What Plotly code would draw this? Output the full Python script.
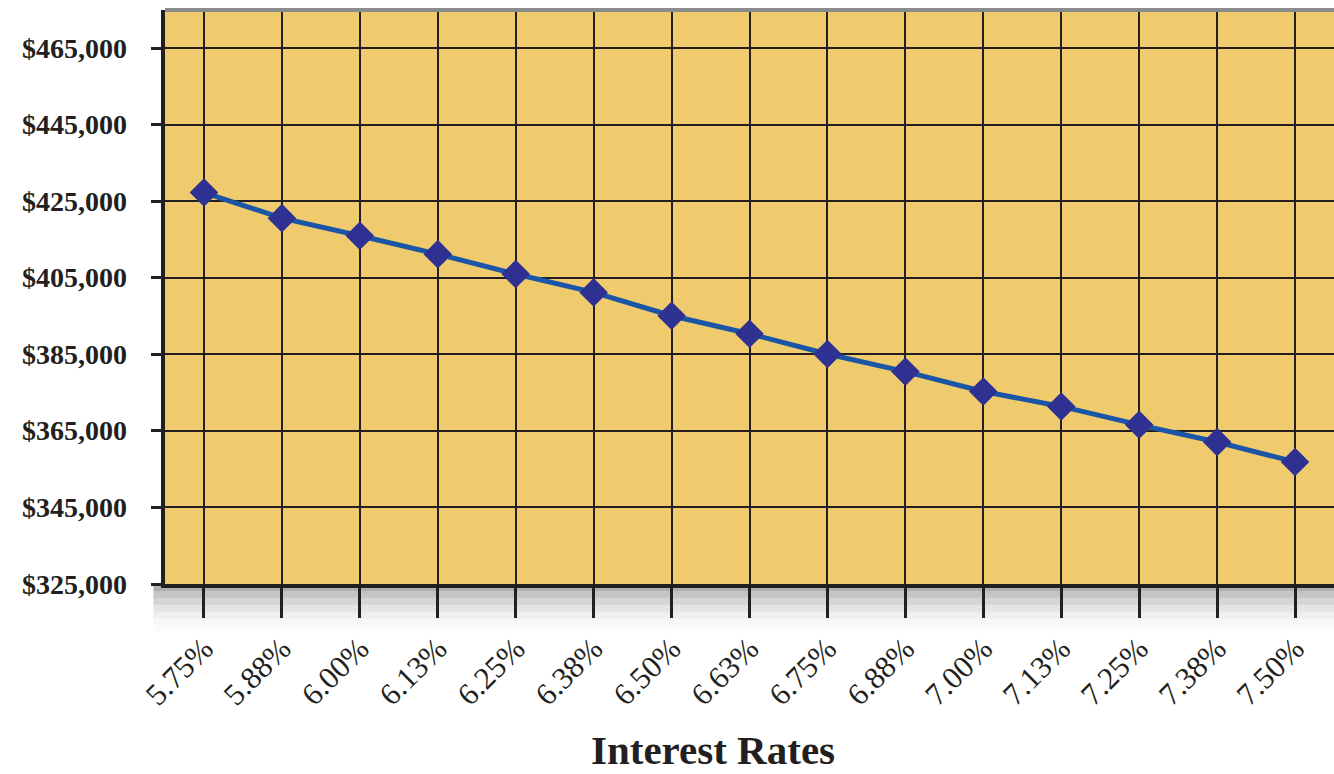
import plotly.graph_objects as go

rates = ["5.75%", "5.88%", "6.00%", "6.13%", "6.25%", "6.38%", "6.50%", "6.63%",
         "6.75%", "6.88%", "7.00%", "7.13%", "7.25%", "7.38%", "7.50%"]
home_price = [427300, 420600, 416000, 411200, 406000, 401200, 395100, 390400,
              385100, 380500, 375300, 371400, 366600, 362100, 356900]
y_ticks = [325000, 345000, 365000, 385000, 405000, 425000, 445000, 465000]
y_tick_labels = ["$%s" % format(v, ",") for v in y_ticks]
x_title = "Interest Rates"

INK = "#231F20"
FONT = "Liberation Serif"

fig = go.Figure()
fig.add_trace(go.Scatter(
    x=rates, y=home_price, mode="lines+markers",
    line=dict(color="#1B55A7", width=5),
    marker=dict(symbol="diamond", size=22, color="#2E3192",
                line=dict(width=0)),
    showlegend=False, hoverinfo="x+y",
))

# soft shadow under the x axis
for i, op in enumerate([0.10, 0.08, 0.06, 0.045, 0.03, 0.02, 0.01]):
    fig.add_shape(type="rect", xref="paper", yref="paper",
                  x0=-0.01, x1=1.0, y0=-0.012 * (i + 1), y1=0,
                  fillcolor="black", opacity=op, line=dict(width=0), layer="below")

# grey top edge
fig.add_shape(type="line", xref="paper", yref="paper", x0=0, x1=1, y0=1, y1=1,
              line=dict(color="#8C8C8C", width=4))

# y tick labels, set a little further from the ticks
for v, lab in zip(y_ticks, y_tick_labels):
    fig.add_annotation(text="<b>" + lab + "</b>", xref="paper", yref="y",
                       x=0, y=v, xanchor="right", yanchor="middle", xshift=-36,
                       showarrow=False, font=dict(size=28, family=FONT, color=INK))

fig.add_annotation(text="<b>" + x_title + "</b>", xref="paper", yref="paper",
                   x=0.469, y=-0.3328, xanchor="center", yanchor="bottom",
                   showarrow=False, font=dict(size=41, family=FONT, color=INK))

fig.update_layout(
    width=1334, height=774,
    margin=dict(l=165, r=0, t=10, b=190),
    paper_bgcolor="white",
    plot_bgcolor="#F0CB6D",
    font=dict(family=FONT, color=INK),
    xaxis=dict(
        type="category", range=[-0.5, len(rates) - 0.5],
        showgrid=True, gridcolor=INK, gridwidth=2,
        showline=True, linecolor=INK, linewidth=4,
        ticks="outside", ticklen=30, tickwidth=2.5, tickcolor=INK,
        tickangle=-45, tickfont=dict(size=31, family=FONT, color=INK),
        zeroline=False,
    ),
    yaxis=dict(
        range=[325000, 475000],
        tickvals=y_ticks, showticklabels=False,
        showgrid=True, gridcolor=INK, gridwidth=2,
        showline=True, linecolor=INK, linewidth=4,
        ticks="outside", ticklen=10, tickwidth=3, tickcolor=INK,
        zeroline=False,
    ),
)

fig.write_html("out.html", config={"displayModeBar": False})

# remove default page margin so the figure sits at the window origin
with open("out.html", "r", encoding="utf-8") as f:
    html = f.read()
html = html.replace("<head>", "<head><style>html,body{margin:0;padding:0;overflow:hidden;}</style>", 1)
with open("out.html", "w", encoding="utf-8") as f:
    f.write(html)
